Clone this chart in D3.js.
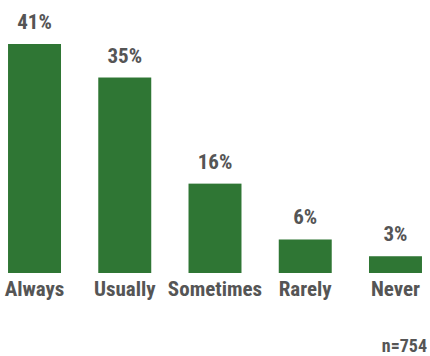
<!DOCTYPE html>
<html>
<head>
<meta charset="utf-8">
<script src="https://cdn.jsdelivr.net/npm/d3@7"></script>
<style>
  html, body { margin: 0; padding: 0; background: #fff; }
  text { font-family: "Roboto Condensed", "Liberation Sans Narrow", sans-serif; font-weight: bold; fill: #555; }
</style>
</head>
<body>
<div id="chart"></div>
<script>
// Frequency responses, share of respondents
const CATEGORIES = ["Always", "Usually", "Sometimes", "Rarely", "Never"];
const VALUES     = [41, 35, 16, 6, 3];
const NOTE       = "n=754";

const W = 430, H = 356;
const baseline = 273;
const BAR_COLOR = "#2f7634";

const svg = d3.select("#chart").append("svg").attr("width", W).attr("height", H);

const x = d3.scaleBand()
  .domain(CATEGORIES)
  .range([0, W])
  .paddingInner(0.413)
  .paddingOuter(0.089);

const y = d3.scaleLinear().domain([0, 41]).range([baseline, 44]);

const data = CATEGORIES.map((c, i) => ({ cat: c, val: VALUES[i] }));

svg.selectAll("rect.bar").data(data).join("rect")
  .attr("class", "bar")
  .attr("x", d => x(d.cat))
  .attr("y", d => y(d.val))
  .attr("width", x.bandwidth())
  .attr("height", d => baseline - y(d.val))
  .attr("fill", BAR_COLOR);

// value labels above bars
svg.selectAll("text.val").data(data).join("text")
  .attr("class", "val")
  .attr("x", d => x(d.cat) + x.bandwidth() / 2)
  .attr("y", d => y(d.val) - 15)
  .attr("text-anchor", "middle")
  .style("font-size", "21px")
  .text(d => d.val + "%");

// category axis (no line, no ticks)
svg.append("g")
  .attr("transform", `translate(0,${baseline})`)
  .call(d3.axisBottom(x).tickSize(0).tickPadding(0))
  .call(ax => ax.select(".domain").remove())
  .selectAll("text")
  .attr("dy", null)
  .attr("y", 23)
  .style("font-size", "21px")
  .style("font-family", null)
  .style("fill", "#555");

svg.append("text")
  .attr("x", 427).attr("y", 352)
  .attr("text-anchor", "end")
  .style("font-size", "18px")
  .text(NOTE);
</script>
</body>
</html>
